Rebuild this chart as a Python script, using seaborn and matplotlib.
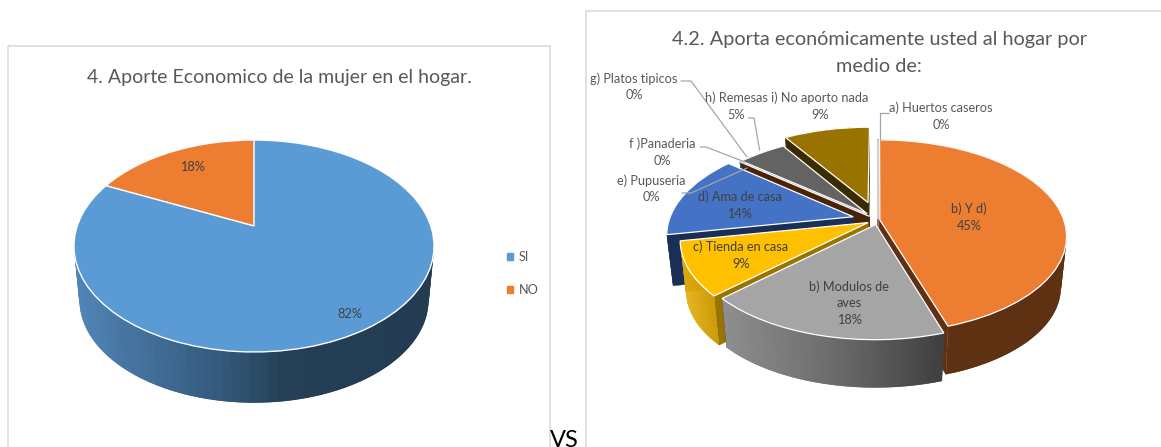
"""
Two 3D style pie charts side by side, rebuilt with a perspective transform.
"""

import numpy as np
import matplotlib
matplotlib.use("Agg")
import matplotlib.pyplot as plt
from matplotlib.patches import Patch
from matplotlib.transforms import Transform
import seaborn as sns

# ── Data ──────────────────────────────────────────────────
LEFT_TITLE = "4. Aporte Economico de la mujer en el hogar."
LEFT_LABELS = ["SI", "NO"]
LEFT_VALUES = [82, 18]

RIGHT_TITLE = ["4.2. Aporta económicamente usted al hogar por", "medio de:"]
RIGHT_LABELS = [
    "a) Huertos caseros", "b) Y d)", "b) Modulos de\naves", "c) Tienda en casa",
    "d) Ama de casa", "e) Pupuseria", "f )Panaderia", "g) Platos tipicos",
    "h) Remesas", "i) No aporto nada",
]
RIGHT_VALUES = [0, 45, 18, 9, 14, 0, 0, 0, 5, 9]

# ── Style ─────────────────────────────────────────────────
LEFT_TOPS = ["#5b9bd5", "#ed7d31"]
LEFT_WALLS = [["#5185b8", "#436f9a", "#355c7f", "#243f56", "#233d54", "#233c52"], ["#5f3113"]]
RIGHT_TOPS = ["#5b9bd5", "#ed7d31", "#a5a5a5", "#ffc000", "#4472c4",
              "#70ad47", "#255e91", "#9e480e", "#636363", "#997300"]
RIGHT_WALLS = [["#5f3113"], ["#5f3113"], ["#8e8e8e", "#6c6c6c", "#404040"],
               ["#e8b010", "#cc9b04"], ["#1a2f56"], ["#43682b"], ["#163855"],
               ["#5f2b08"], ["#3a3a3a"], ["#3a2c00"]]
RIGHT_FACES = ["#5f3113", "#5f3113", "#4d4d4d", "#987300", "#1a2f56",
               "#43682b", "#163855", "#4a2206", "#3a3a3a", "#3a2c00"]
RIGHT_EXPLODE = [0.01, 0.01, 0.05, 0.06, 0.14, 0.09, 0.08, 0.06, 0.09, 0.2]
RIGHT_ORDER = [9, 8, 5, 6, 7, 4, 0, 1, 3, 2]
GREY_TEXT = "#595959"
FONT = "Lato"
STEPS = 120

sns.set_theme(style="white")
plt.rcParams["font.family"] = FONT


class Tilt(Transform):
    """Projects the unit circle of a pie onto a tilted disc, in pixels."""
    input_dims = 2
    output_dims = 2

    def __init__(self, cx, cy, d, k, c):
        super().__init__()
        self.cx, self.cy, self.d, self.k, self.c = cx, cy, d, k, c

    def transform_non_affine(self, values):
        values = np.asarray(values, dtype=float)
        w = 1 + self.c * values[:, 1]
        return np.column_stack([self.cx + self.d * values[:, 0] / w,
                                self.cy - self.k * values[:, 1] / w])


def draw_solid(ax, wedges, tilt, walls, faces, order, mid_y, drop, shrink):
    """Walls are extruded below the wedge tops, drawn back to front."""
    z = 3

    def lower(pts):
        out = pts.copy()
        out[:, 0] = tilt.cx + (pts[:, 0] - tilt.cx) * shrink
        out[:, 1] = mid_y + (pts[:, 1] - mid_y) * shrink + drop
        return out

    for i in order:
        w = wedges[i]
        centre = np.array(w.center)
        angles = np.radians(np.linspace(w.theta1, w.theta2, STEPS))
        rim = tilt.transform(centre + np.column_stack([np.cos(angles), np.sin(angles)]))
        apex = tilt.transform(centre[None, :])
        low_rim, low_apex = lower(rim), lower(apex)

        # radial cut faces
        for end in (0, -1):
            quad = np.vstack([apex, rim[end], low_rim[end], low_apex])
            ax.fill(quad[:, 0], quad[:, 1], color=faces[i], lw=0.3, zorder=z)
        z += 1

        # outer wall, colour runs left to right over the arc
        pal = sns.blend_palette(walls[i], STEPS) if len(walls[i]) > 1 else walls[i] * STEPS
        span = max(rim[:, 0].max() - rim[:, 0].min(), 1)
        for j in range(len(rim) - 1):
            # each quad overlaps the next so no seam shows
            k = min(j + 2, len(rim) - 1)
            quad = np.vstack([rim[j], rim[k], low_rim[k], low_rim[j]])
            pos = (rim[j:k + 1, 0].mean() - rim[:, 0].min()) / span
            ax.fill(quad[:, 0], quad[:, 1], color=pal[min(int(pos * STEPS), STEPS - 1)],
                    lw=0, zorder=z)
            z += 0.001
        z = int(z) + 1

        w.set_transform(tilt + ax.transData)
        w.set_zorder(z)
        z += 1


def label(ax, x, y, s, color=GREY_TEXT, size=9.2):
    ax.text(x, y, s, ha="center", va="center", color=color, fontsize=size,
            zorder=900, linespacing=1.45)


def leader(ax, xs, ys):
    ax.plot(xs, ys, color="#a6a6a6", lw=0.9, zorder=800)


fig = plt.figure(figsize=(11.61, 4.47), dpi=100, facecolor="white")
ax = fig.add_axes([0, 0, 1, 1])

# ── Left chart ────────────────────────────────────────────
left_wedges, _ = ax.pie(
    LEFT_VALUES, colors=LEFT_TOPS, startangle=90, counterclock=False,
    wedgeprops={"edgecolor": "white", "linewidth": 1.0},
)
left_tilt = Tilt(254, 226, 176.8, 102.2, 0.1887)
draw_solid(ax, left_wedges, left_tilt, LEFT_WALLS, ["#243f56", "#5f3113"], [1, 0], 246, 54, 0.97)

# ── Right chart ───────────────────────────────────────────
right_wedges, _ = ax.pie(
    RIGHT_VALUES, colors=RIGHT_TOPS, startangle=90, counterclock=False,
    explode=RIGHT_EXPLODE, wedgeprops={"edgecolor": "white", "linewidth": 0.9},
)
right_tilt = Tilt(878, 220, 184, 93.7, 0.171)
draw_solid(ax, right_wedges, right_tilt, RIGHT_WALLS, RIGHT_FACES, RIGHT_ORDER, 236, 51, 0.97)

ax.set_aspect("auto")
ax.set_xlim(0, 1161)
ax.set_ylim(447, 0)
ax.set_axis_off()

# chart frames
ax.plot([8, 8, 549.5, 549.5], [447, 45.5, 45.5, 447], color="#d9d9d9", lw=1.1, zorder=1)
ax.plot([585.5, 585.5, 1161], [447, 10.5, 10.5], color="#d9d9d9", lw=1.1, zorder=1)

# ── Text ──────────────────────────────────────────────────
ax.text(279, 78, LEFT_TITLE, ha="center", va="center", color=GREY_TEXT, fontsize=14)
ax.text(879, 39, RIGHT_TITLE[0], ha="center", va="center", color=GREY_TEXT, fontsize=14.3)
ax.text(879, 67, RIGHT_TITLE[1], ha="center", va="center", color=GREY_TEXT, fontsize=14.3)

label(ax, 192, 167, f"{LEFT_VALUES[1]}%", "#404040")
label(ax, 349.5, 314, f"{LEFT_VALUES[0]}%", "#404040")

handles = [Patch(color=c, label=s) for c, s in zip(LEFT_TOPS, LEFT_LABELS)]
ax.legend(handles=handles, loc="center left", bbox_to_anchor=(507, 273.5),
          bbox_transform=ax.transData, frameon=False, fontsize=9.2, labelcolor=GREY_TEXT,
          handlelength=0.45, handleheight=0.45, handletextpad=0.5, labelspacing=1.7,
          borderpad=0, borderaxespad=0)

right_places = [(941, 116), (969, 217), (849, 303), (741, 255), (739.5, 205),
                (651, 188.5), (662, 152), (634, 86.5), (736, 106), (820, 106)]
for i, (x, y) in enumerate(right_places):
    inside = i in (1, 2, 3, 4)
    label(ax, x, y, f"{RIGHT_LABELS[i]}\n{RIGHT_VALUES[i]}%", "#404040" if inside else GREY_TEXT)

leader(ax, [681, 691, 747], [81, 81, 157])
leader(ax, [748.5, 754, 759.6], [118, 118, 150])
leader(ax, [700, 706, 745], [147, 147, 162])
leader(ax, [682, 691, 747], [193, 193, 168])
leader(ax, [888.5, 880, 880], [113, 113, 140])

ax.text(564, 430, "VS", ha="center", va="top", color="black", fontsize=17, zorder=950)

fig.savefig("out.png", dpi=100)
